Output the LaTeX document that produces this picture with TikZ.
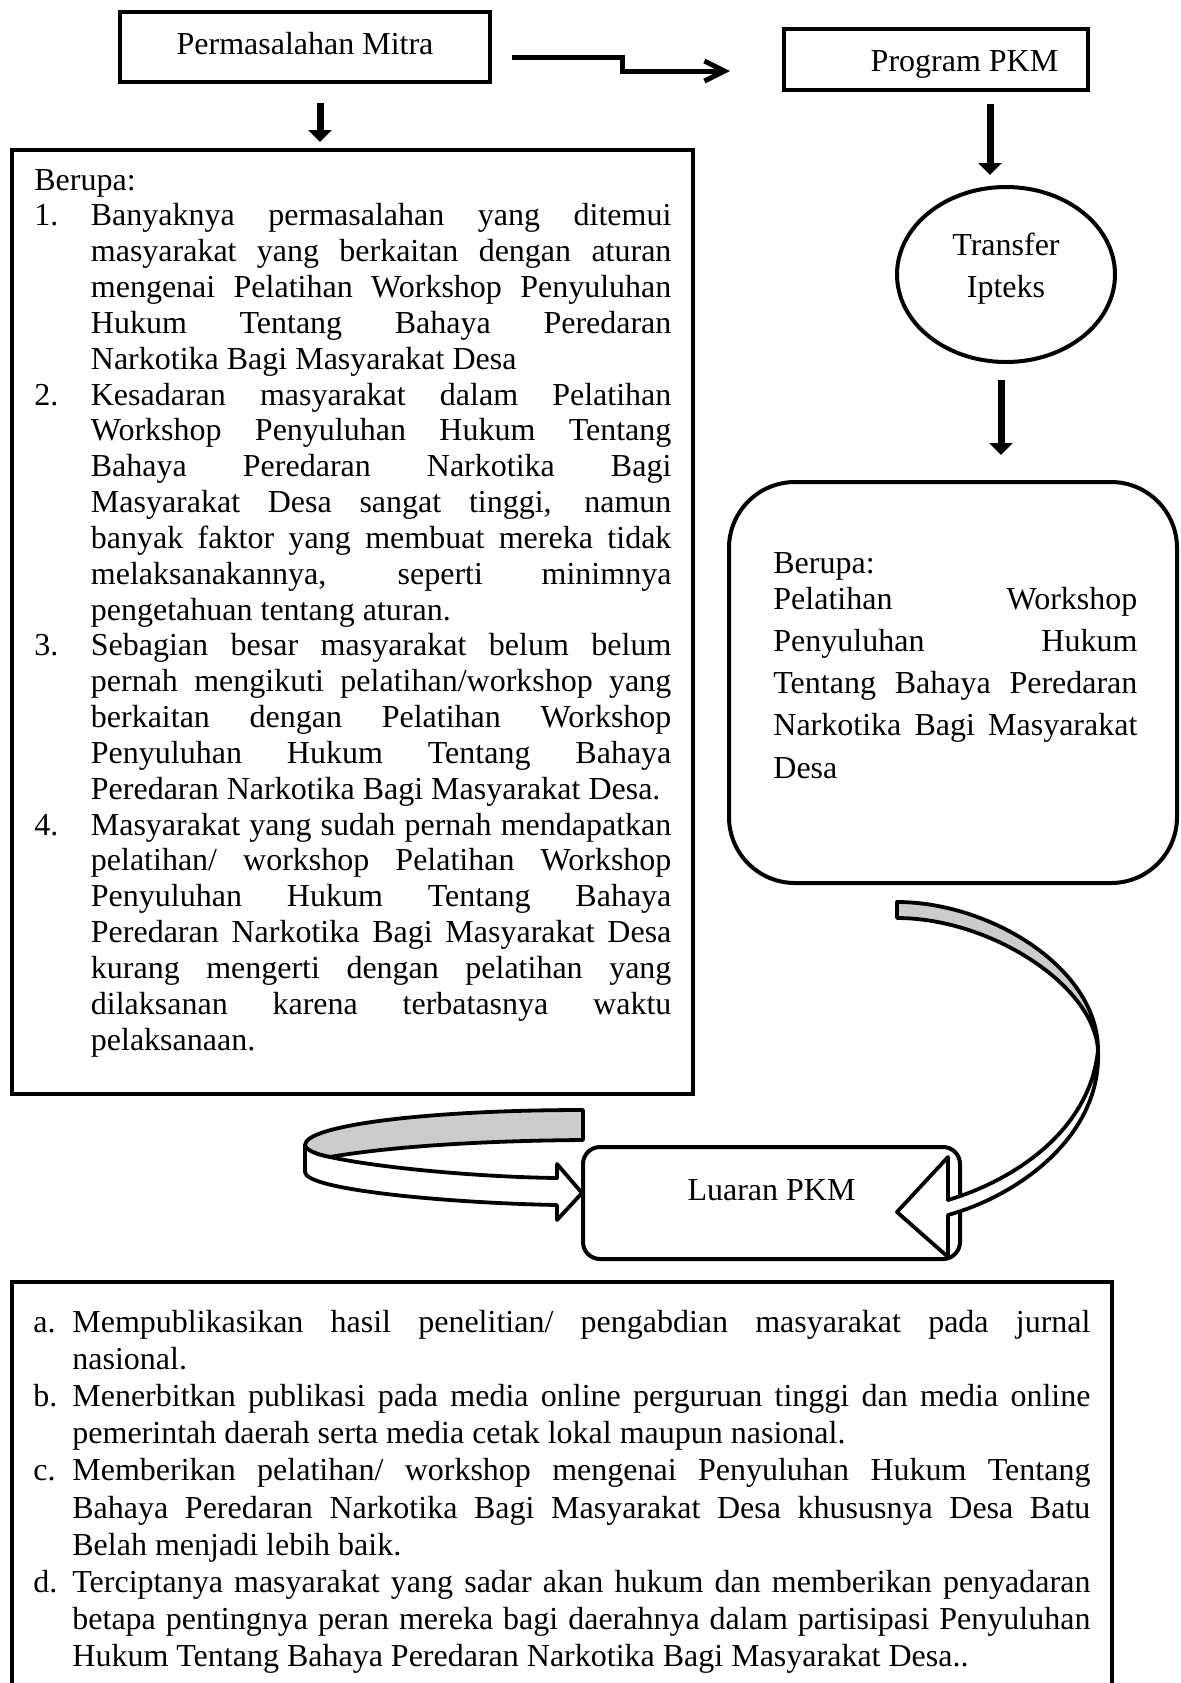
\documentclass[tikz,border=0pt]{standalone}
\usepackage{fontspec}
\setmainfont{Liberation Serif}
\usetikzlibrary{arrows.meta,shapes.geometric}
\newlength\numw
\newlength\linw
\hbadness=10000
\hfuzz=5pt
\newcommand\NJ[2]{\noindent\makebox[\numw][l]{#1}\makebox[\linw][s]{#2}\par}
\newcommand\NL[2]{\noindent\makebox[\numw][l]{#1}#2\par}
\newcommand\CJ[1]{\noindent\hspace*{\numw}\makebox[\linw][s]{#1}\par}
\newcommand\CL[1]{\noindent\hspace*{\numw}#1\par}
\newcommand\PJ[1]{\noindent\makebox[\linw][s]{#1}\par}
\newcommand\PL[1]{\noindent #1\par}
\begin{document}
\begin{tikzpicture}[x=0.5pt,y=-0.5pt,
  box/.style={draw, line width=2.4pt, rectangle, inner sep=0pt},
  rbox/.style={draw, line width=2pt, rectangle, rounded corners=#1, inner sep=0pt},
  lbl/.style={font=\fontsize{16}{18}\selectfont},
  downarrow/.style={line width=3.5pt, -{Triangle[length=6pt,width=11.5pt]}},
  steparrow/.style={line width=2.5pt, -{Straight Barb[length=10pt,width=10pt]}},
  ribbon/.style={draw, line width=1.9pt, line join=round},
  txtblock/.style={anchor=base west, inner sep=0pt},
]
\useasboundingbox (0,0) rectangle (1181,1683);
\clip (0,0) rectangle (1181,1683);

% boxes
\node[box, lbl, minimum width=185pt, minimum height=35pt, text height=11pt, text depth=4pt] (pm) at (305,47) {Permasalahan Mitra};
\node[box, lbl, minimum width=152pt, minimum height=30.5pt, text height=14pt, text depth=2.5pt] (pk) at (936,59.5) {\hspace*{28.5pt}Program PKM};
\node[box, minimum width=340.5pt, minimum height=472pt] (lb) at (352.5,622) {};
\node[ellipse, draw, line width=2pt, minimum width=109pt, minimum height=87.5pt, inner sep=0pt, align=center, font=\fontsize{16}{21}\selectfont] (tr) at (1006,274.5) {Transfer\\Ipteks\rule[-9.5pt]{0pt}{0pt}};
\node[rbox=33pt, minimum width=224pt, minimum height=200.5pt] (rb) at (953,682.5) {};
\node[rbox=8.5pt, lbl, minimum width=188.5pt, minimum height=56pt, text height=10pt, text depth=13pt] (lu) at (771.5,1203) {Luaran PKM};
\node[box, minimum width=550pt, minimum height=219pt] (bb) at (562,1501) {};

% straight arrows
\coordinate (s1) at (512,57);
\coordinate (s2) at (730,71);
\draw[steparrow] (s1) -- (622,57) -- (622,71) -- (s2);
\coordinate (d1a) at (320,103);
\coordinate (d1b) at (320,142);
\draw[downarrow] (d1a) -- (d1b);
\coordinate (d2a) at (990,104);
\coordinate (d2b) at (990,175);
\draw[downarrow] (d2a) -- (d2b);
\coordinate (d3a) at (1001,380);
\coordinate (d3b) at (1001,455);
\draw[downarrow] (d3a) -- (d3b);

% left curved ribbon arrow
\path[ribbon, fill=gray!40] (583,1110) .. controls (430,1110) and (305,1125) .. (305,1145)
  .. controls (305,1150) and (318,1155) .. (330,1157)
  .. controls (370,1150) and (450,1141) .. (583,1140) -- cycle;
\path[ribbon, fill=white] (305,1145) .. controls (305,1150) and (318,1155) .. (330,1157)
  .. controls (380,1168) and (480,1177) .. (557,1178) -- (557,1164) -- (582,1193) -- (557,1220) -- (557,1205)
  .. controls (450,1203) and (305,1190) .. (305,1172) -- cycle;

% right curved ribbon arrow
\path[ribbon, fill=gray!40] (897,902) .. controls (990,902) and (1098,968) .. (1098,1050)
  .. controls (1094,985) and (990,918) .. (897,918) -- cycle;
\path[ribbon, fill=white] (1098,1050) .. controls (1102,1135) and (1020,1195) .. (948,1215)
  -- (948,1257) -- (897,1212) -- (948,1157) -- (948,1200)
  .. controls (1015,1180) and (1090,1130) .. (1098,1050) -- cycle;

% text blocks
\node[txtblock] (lt) at (34,190) {\vtop{\hsize=330pt\parindent=0pt\parskip=0pt
\fontsize{16}{17.92}\selectfont\setlength\numw{28.25pt}\setlength\linw{290.25pt}%
\PL{Berupa:}
\NJ{1.}{Banyaknya permasalahan yang ditemui}
\CJ{masyarakat yang berkaitan dengan aturan}
\CJ{mengenai Pelatihan Workshop Penyuluhan}
\CJ{Hukum Tentang Bahaya Peredaran}
\CL{Narkotika Bagi Masyarakat Desa}
\NJ{2.}{Kesadaran masyarakat dalam Pelatihan}
\CJ{Workshop Penyuluhan Hukum Tentang}
\CJ{Bahaya Peredaran Narkotika Bagi}
\CJ{Masyarakat Desa sangat tinggi, namun}
\CJ{banyak faktor yang membuat mereka tidak}
\CJ{melaksanakannya, seperti minimnya}
\CL{pengetahuan tentang aturan.}
\NJ{3.}{Sebagian besar masyarakat belum belum}
\CJ{pernah mengikuti pelatihan/workshop yang}
\CJ{berkaitan dengan Pelatihan Workshop}
\CJ{Penyuluhan Hukum Tentang Bahaya}
\CL{Peredaran Narkotika Bagi Masyarakat Desa.}
\NJ{4.}{Masyarakat yang sudah pernah mendapatkan}
\CJ{pelatihan/ workshop Pelatihan Workshop}
\CJ{Penyuluhan Hukum Tentang Bahaya}
\CJ{Peredaran Narkotika Bagi Masyarakat Desa}
\CJ{kurang mengerti dengan pelatihan yang}
\CJ{dilaksanan karena terbatasnya waktu}
\CL{pelaksanaan.}
}};

\node[txtblock] (rt) at (773,573) {\vtop{\hsize=200pt\parindent=0pt\parskip=0pt
\fontsize{16}{21.125}\selectfont\setlength\linw{182pt}%
\PL{Berupa:}
\vskip-3.125pt
\PJ{Pelatihan Workshop}
\PJ{Penyuluhan Hukum}
\PJ{Tentang Bahaya Peredaran}
\PJ{Narkotika Bagi Masyarakat}
\PL{Desa}
}};

\node[txtblock] (bt) at (33,1332) {\vtop{\hsize=540pt\parindent=0pt\parskip=0pt
\fontsize{16}{18.6}\selectfont\setlength\numw{19.5pt}\setlength\linw{509pt}%
\NJ{a.}{Mempublikasikan hasil penelitian/ pengabdian masyarakat pada jurnal}
\CL{nasional.}
\NJ{b.}{Menerbitkan publikasi pada media online perguruan tinggi dan media online}
\CL{pemerintah daerah serta media cetak lokal maupun nasional.}
\NJ{c.}{Memberikan pelatihan/ workshop mengenai Penyuluhan Hukum Tentang}
\CJ{Bahaya Peredaran Narkotika Bagi Masyarakat Desa khususnya Desa Batu}
\CL{Belah menjadi lebih baik.}
\NJ{d.}{Terciptanya masyarakat yang sadar akan hukum dan memberikan penyadaran}
\CJ{betapa pentingnya peran mereka bagi daerahnya dalam partisipasi Penyuluhan}
\CL{Hukum Tentang Bahaya Peredaran Narkotika Bagi Masyarakat Desa..}
}};
\end{tikzpicture}
\end{document}
